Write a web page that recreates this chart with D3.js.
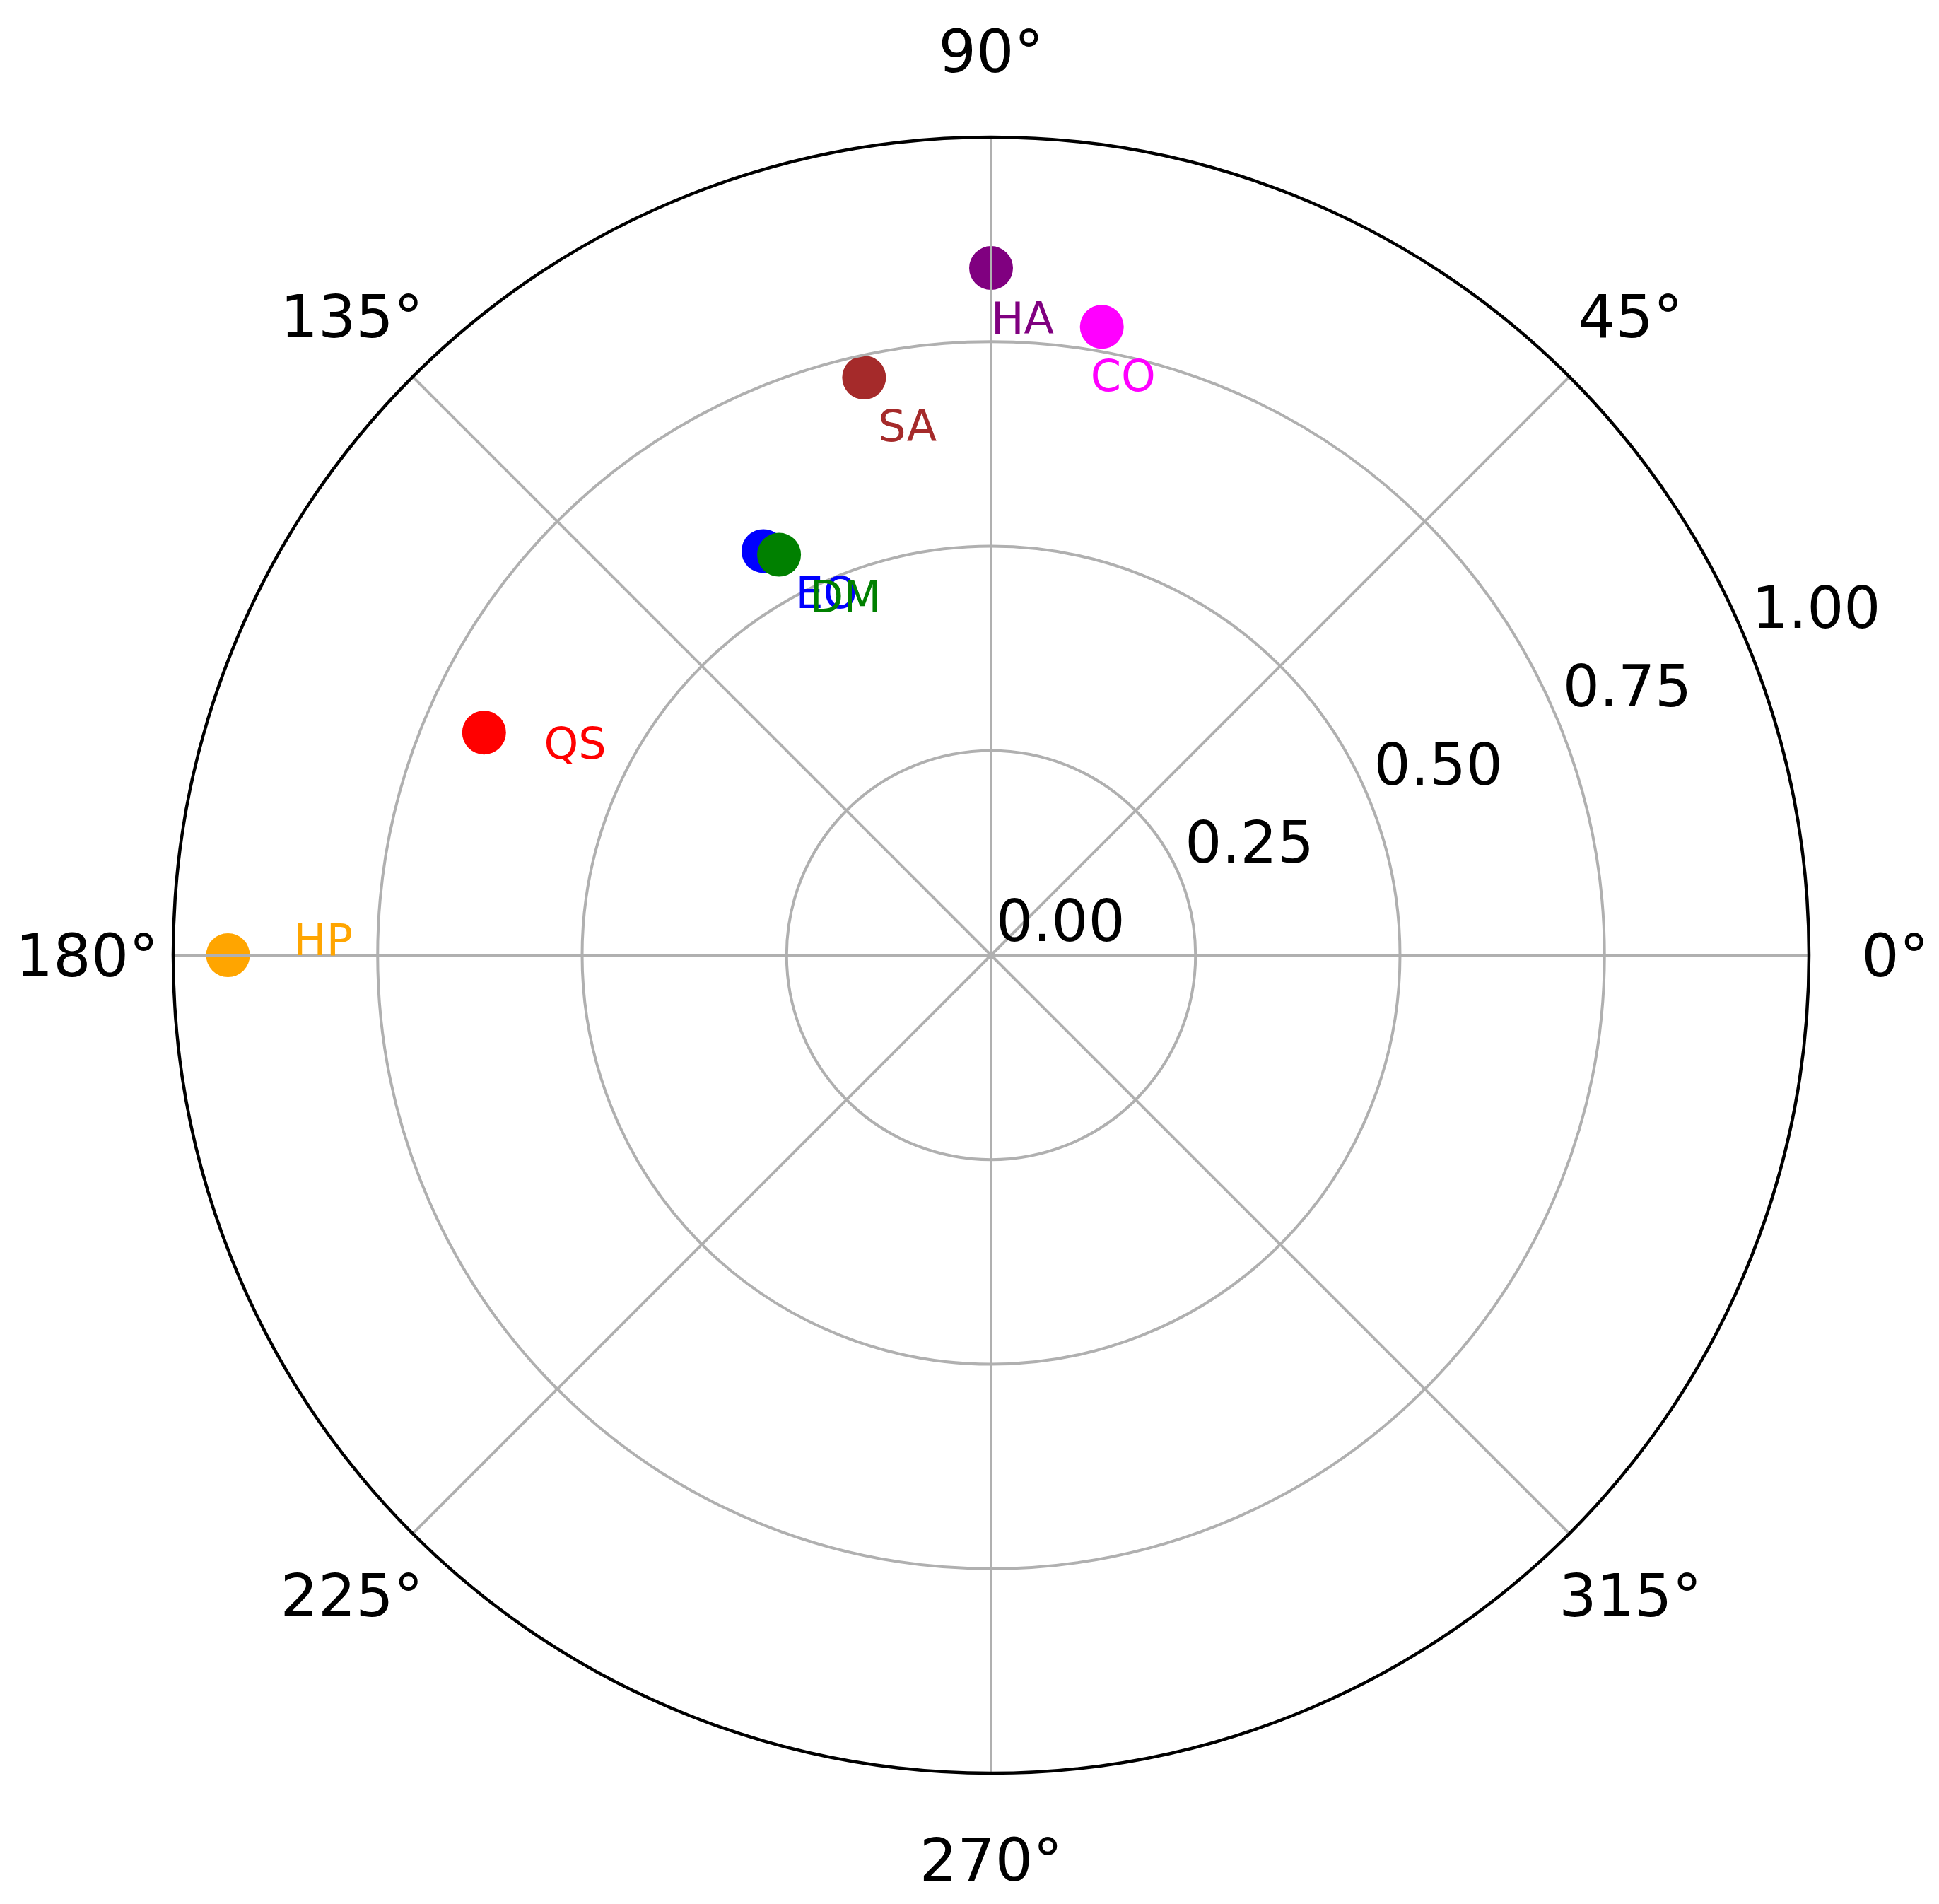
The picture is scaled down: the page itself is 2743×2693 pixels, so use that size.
<!DOCTYPE html>
<html>
<head>
<meta charset="utf-8">
<script src="https://cdn.jsdelivr.net/npm/d3@7"></script>
<style>
  body { margin: 0; background: #fff; }
  text { font-family: "DejaVu Sans", sans-serif; }
</style>
</head>
<body>
<div class="polar-chart"></div>
<script>
const names = ["HA", "CO", "SA", "EO", "DM", "QS", "HP"];
const angles = [90, 80, 102.4, 119.4, 117.9, 156.3, 180];
const radii = [0.84, 0.78, 0.723, 0.567, 0.554, 0.677, 0.933];
const colors = ["purple", "magenta", "brown", "blue", "green", "red", "orange"];
const radialTicks = [0, 0.25, 0.5, 0.75, 1.0];
const angleTicks = [0, 45, 90, 135, 180, 225, 270, 315];

const width = 2743;
const height = 2693;
const cx = 1402;
const cy = 1351;
const radius = 1157;

const rScale = d3.scaleLinear().domain([0, 1]).range([0, radius]);
const toRad = (deg) => (deg * Math.PI) / 180;
const px = (deg, r) => cx + rScale(r) * Math.cos(toRad(deg));
const py = (deg, r) => cy - rScale(r) * Math.sin(toRad(deg));

const data = names.map((name, i) => ({
  name: name,
  angle: angles[i],
  r: radii[i],
  color: colors[i],
}));

const chart = d3
  .select(".polar-chart")
  .append("svg")
  .attr("width", width)
  .attr("height", height);

// points
chart
  .append("g")
  .selectAll("circle")
  .data(data)
  .enter()
  .append("circle")
  .attr("cx", (d) => px(d.angle, d.r))
  .attr("cy", (d) => py(d.angle, d.r))
  .attr("r", 31)
  .attr("fill", (d) => d.color);

// grid on top of the points
const grid = chart.append("g");

grid
  .selectAll("line")
  .data(angleTicks)
  .enter()
  .append("line")
  .attr("x1", cx)
  .attr("y1", cy)
  .attr("x2", (d) => px(d, 1))
  .attr("y2", (d) => py(d, 1))
  .attr("stroke", "#b0b0b0")
  .attr("stroke-width", 4);

grid
  .selectAll("circle")
  .data(radialTicks.filter((d) => d > 0 && d < 1))
  .enter()
  .append("circle")
  .attr("cx", cx)
  .attr("cy", cy)
  .attr("r", (d) => rScale(d))
  .attr("fill", "none")
  .attr("stroke", "#b0b0b0")
  .attr("stroke-width", 4);

chart
  .append("circle")
  .attr("cx", cx)
  .attr("cy", cy)
  .attr("r", rScale(1))
  .attr("fill", "none")
  .attr("stroke", "#000")
  .attr("stroke-width", 4.5);

// angle labels
chart
  .append("g")
  .selectAll("text")
  .data(angleTicks)
  .enter()
  .append("text")
  .attr("x", (d) => cx + (radius + 122) * Math.cos(toRad(d)))
  .attr("y", (d) => cy - (radius + 122) * Math.sin(toRad(d)))
  .attr("dy", "0.36em")
  .attr("text-anchor", "middle")
  .attr("font-size", 84)
  .attr("fill", "#000")
  .text((d) => d + "°");

// radial labels at 22.5 deg
chart
  .append("g")
  .selectAll("text")
  .data(radialTicks)
  .enter()
  .append("text")
  .attr("x", (d) => px(22.5, d) + 7)
  .attr("y", (d) => py(22.5, d) - 20)
  .attr("font-size", 82)
  .attr("fill", "#000")
  .text((d) => d.toFixed(2));

// point labels
chart
  .append("g")
  .selectAll("text")
  .data(data)
  .enter()
  .append("text")
  .attr("x", (d) => px(d.angle, d.r - 0.08))
  .attr("y", (d) => py(d.angle, d.r - 0.08))
  .attr("font-size", 62)
  .attr("fill", (d) => d.color)
  .text((d) => d.name);
</script>
</body>
</html>
